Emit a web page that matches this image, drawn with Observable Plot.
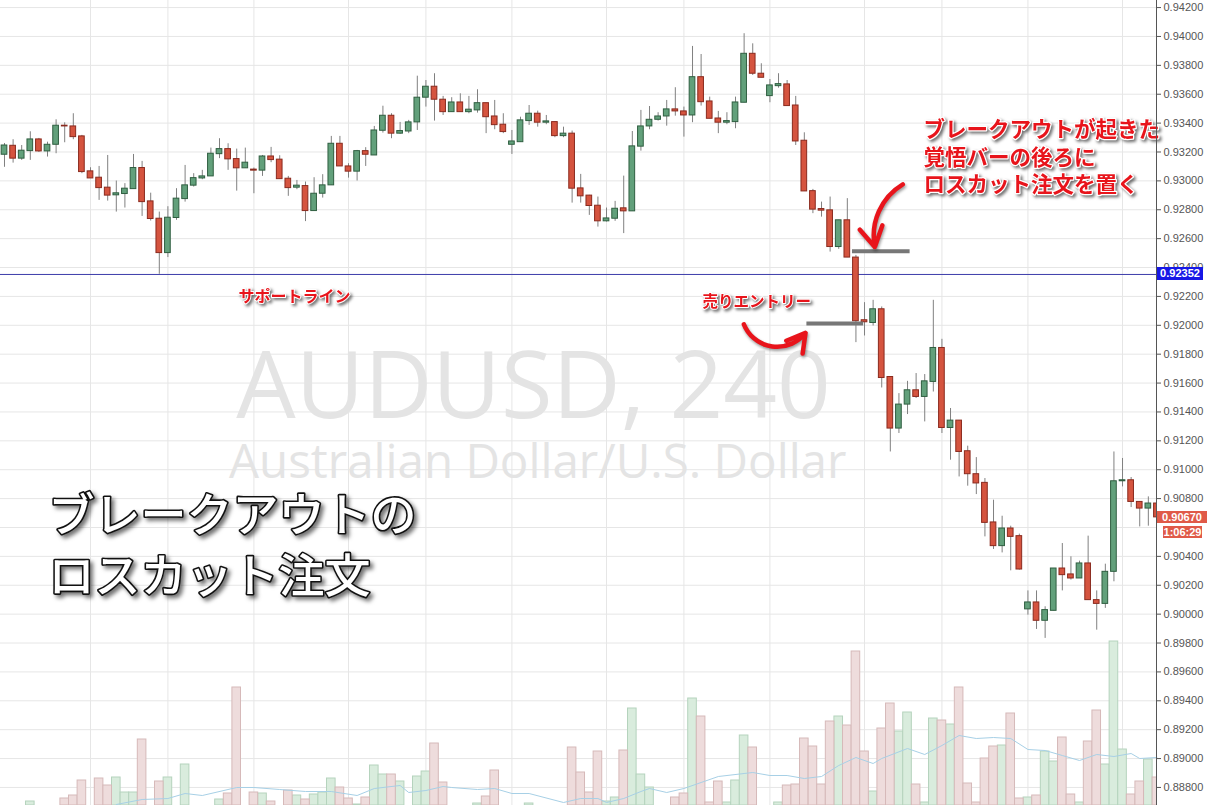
<!DOCTYPE html>
<html><head><meta charset="utf-8">
<script src="https://cdn.jsdelivr.net/npm/d3@7"></script>
<script src="https://cdn.jsdelivr.net/npm/@observablehq/plot@0.6"></script>
<style>
html,body{margin:0;padding:0;background:#fff;overflow:hidden;}
#wrap{position:relative;width:1211px;height:805px;overflow:hidden;}
#wrap svg{position:absolute;left:0;top:0;background:transparent;}
.redtxt{filter:drop-shadow(2px 2px 1.5px rgba(0,0,0,0.55));}
.bigtxt{filter:drop-shadow(3px 3px 2px rgba(0,0,0,0.55));}
.arrowfx{filter:drop-shadow(1px 2px 1.5px rgba(0,0,0,0.4));}
.lbl{position:absolute;font:bold 11px Arial,"Liberation Sans",sans-serif;color:#fff;text-align:center;}
</style></head><body><div id="wrap"></div>
<script>
// ---- data (AUDUSD 4h candles) ----
const open = [0.93181,0.93243,0.93154,0.93206,0.93287,0.93204,0.93250,0.93382,0.93377,0.93308,
0.93066,0.93022,0.92953,0.92900,0.92909,0.92943,0.93089,0.92858,0.92738,0.92500,
0.92743,0.92874,0.92967,0.93017,0.93031,0.93185,0.93220,0.93151,0.93087,0.93078,
0.93071,0.93169,0.93147,0.93015,0.92953,0.92964,0.92791,0.92911,0.92969,0.93257,
0.93100,0.93064,0.93206,0.93176,0.93347,0.93451,0.93327,0.93342,0.93405,0.93576,
0.93652,0.93562,0.93476,0.93543,0.93476,0.93488,0.93538,0.93446,0.93389,0.93250,
0.93268,0.93414,0.93465,0.93403,0.93407,0.93310,0.93327,0.92948,0.92898,0.92828,
0.92720,0.92738,0.92810,0.92789,0.93237,0.93377,0.93423,0.93446,0.93495,0.93481,
0.93453,0.93718,0.93550,0.93432,0.93403,0.93407,0.93541,0.93880,0.93742,0.93587,
0.93656,0.93668,0.93522,0.93278,0.92929,0.92805,0.92796,0.92542,0.92727,0.92469,
0.92035,0.92016,0.92111,0.91642,0.91285,0.91451,0.91550,0.91504,0.91608,0.91843,
0.91289,0.91340,0.91128,0.90969,0.90909,0.90635,0.90471,0.90593,0.90540,0.90033,
0.90081,0.89954,0.90023,0.90316,0.90275,0.90247,0.90351,0.90097,0.90071,0.90293,
0.90920,0.90927,0.90777,0.90731,0.90766];
const high = [0.93259,0.93285,0.93245,0.93340,0.93294,0.93268,0.93423,0.93402,0.93465,0.93315,
0.93091,0.93100,0.93176,0.92999,0.92981,0.93183,0.93135,0.92915,0.92784,0.92821,
0.92946,0.93107,0.93050,0.93073,0.93227,0.93292,0.93257,0.93220,0.93227,0.93089,
0.93176,0.93232,0.93174,0.93031,0.93003,0.92992,0.93022,0.93043,0.93308,0.93308,
0.93119,0.93211,0.93230,0.93377,0.93517,0.93465,0.93405,0.93419,0.93725,0.93695,
0.93742,0.93585,0.93576,0.93603,0.93585,0.93631,0.93538,0.93557,0.93465,0.93349,
0.93441,0.93522,0.93483,0.93453,0.93407,0.93372,0.93345,0.93045,0.92900,0.92888,
0.92812,0.92858,0.93033,0.93342,0.93488,0.93515,0.93472,0.93557,0.93645,0.93511,
0.93931,0.93875,0.93580,0.93481,0.93472,0.93580,0.94019,0.93949,0.93811,0.93702,
0.93742,0.93695,0.93585,0.93333,0.92941,0.92853,0.92888,0.92727,0.92877,0.92484,
0.92157,0.92173,0.92127,0.91642,0.91527,0.91612,0.91666,0.91659,0.92173,0.91903,
0.91424,0.91340,0.91163,0.91084,0.90939,0.90789,0.90678,0.90609,0.90554,0.90161,
0.90161,0.90051,0.90316,0.90489,0.90397,0.90367,0.90540,0.90161,0.90346,0.91123,
0.91078,0.90946,0.90777,0.90812,0.90789];
const low = [0.93094,0.93123,0.93142,0.93142,0.93197,0.93165,0.93188,0.93264,0.93285,0.93050,
0.93017,0.92865,0.92860,0.92784,0.92812,0.92943,0.92754,0.92722,0.92353,0.92469,
0.92727,0.92853,0.92957,0.93008,0.93031,0.93154,0.93073,0.92929,0.93087,0.92911,
0.93031,0.93126,0.93012,0.92893,0.92939,0.92718,0.92791,0.92881,0.92969,0.93100,
0.93019,0.92999,0.93100,0.93176,0.93331,0.93292,0.93322,0.93327,0.93349,0.93511,
0.93414,0.93453,0.93476,0.93476,0.93465,0.93469,0.93327,0.93354,0.93327,0.93183,
0.93268,0.93384,0.93372,0.93389,0.93299,0.93299,0.92846,0.92846,0.92761,0.92680,
0.92715,0.92720,0.92635,0.92789,0.93206,0.93354,0.93414,0.93379,0.93448,0.93303,
0.93403,0.93518,0.93430,0.93327,0.93389,0.93361,0.93541,0.93730,0.93714,0.93541,
0.93642,0.93518,0.93245,0.92927,0.92773,0.92749,0.92507,0.92526,0.92469,0.91880,
0.91926,0.91995,0.91566,0.91123,0.91251,0.91382,0.91493,0.91331,0.91538,0.91251,
0.91066,0.90950,0.90886,0.90828,0.90535,0.90448,0.90424,0.90300,0.90305,0.89993,
0.89894,0.89832,0.90023,0.90161,0.90236,0.90247,0.90097,0.89889,0.90040,0.90224,
0.90881,0.90738,0.90604,0.90609,0.90650];
const close = [0.93245,0.93154,0.93209,0.93287,0.93204,0.93250,0.93382,0.93377,0.93303,0.93061,
0.93017,0.92950,0.92898,0.92914,0.92946,0.93089,0.92853,0.92736,0.92500,0.92745,
0.92877,0.92969,0.93019,0.93031,0.93188,0.93220,0.93149,0.93087,0.93126,0.93071,
0.93169,0.93144,0.93012,0.92950,0.92967,0.92791,0.92911,0.92969,0.93257,0.93100,
0.93064,0.93206,0.93181,0.93349,0.93451,0.93327,0.93345,0.93405,0.93576,0.93652,
0.93562,0.93476,0.93543,0.93476,0.93493,0.93538,0.93441,0.93386,0.93338,0.93273,
0.93419,0.93465,0.93403,0.93412,0.93310,0.93327,0.92946,0.92893,0.92826,0.92720,
0.92740,0.92807,0.92789,0.93239,0.93377,0.93423,0.93446,0.93495,0.93481,0.93453,
0.93718,0.93545,0.93430,0.93403,0.93414,0.93543,0.93880,0.93742,0.93714,0.93661,
0.93670,0.93518,0.93273,0.92927,0.92801,0.92794,0.92542,0.92727,0.92469,0.92028,
0.92021,0.92111,0.91635,0.91285,0.91451,0.91550,0.91504,0.91612,0.91843,0.91289,
0.91340,0.91123,0.90969,0.90905,0.90632,0.90471,0.90593,0.90535,0.90309,0.90081,
0.89954,0.90028,0.90316,0.90270,0.90247,0.90351,0.90097,0.90071,0.90293,0.90920,
0.90927,0.90777,0.90731,0.90766,0.90670];
// relative volume per candle
const volume = [0,0,0,4,0,0,0,7,10,25, 0,27,20,28,13,13,66,0,24,28,
0,41,0,0,0,6,12,118,0,13, 12,4,0,15,10,6,11,13,27,18,
7,1,8,40,31,31,24,0,29,34, 62,23,0,0,0,2,9,35,0,0,
0,2,0,0,0,0,58,33,13,54, 4,8,55,97,31,18,0,0,8,12,
107,89,3,24,3,25,70,58,0,0, 3,20,21,67,59,21,84,89,80,154,
54,14,77,102,74,93,21,3,87,85, 81,118,22,3,47,59,60,92,7,8,
10,54,44,68,11,3,64,95,41,164, 56,11,24,46,28];
// volume moving average (read at selected candles)
const maIndex = [13,16,19,21,23,27,29,32,35,38,41,43,46,47,49,51,52,55,57,59,61,65,67,69,70,72,74,75,77,79,81,83,86,87,89,91,93,95,97,99,101,102,105,107,109,111,113,115,117,119,121,123,125,127,129,131,132,134];
const maValue = [1,6,7,12,10,18,18,16,14,14,10,17,20,13,15,19,18,16,17,12,12,3,7,7,3,7,14,17,13,17,23,29,32,33,30,30,27,29,40,48,42,47,57,51,60,70,67,68,67,56,55,50,45,51,49,52,47,48];

const yTicks = [0.888,0.890,0.892,0.894,0.896,0.898,0.900,0.902,0.904,0.906,0.908,0.910,0.912,0.914,0.916,0.918,0.920,0.922,0.924,0.926,0.928,0.930,0.932,0.934,0.936,0.938,0.940,0.942];
// tick labels drawn on the price scale (0.906 sits under the last-price tag)
const yTickLabels = [0.888,0.890,0.892,0.894,0.896,0.898,0.900,0.902,0.904,0.908,0.910,0.912,0.914,0.916,0.918,0.920,0.922,0.924,0.926,0.928,0.930,0.932,0.934,0.936,0.938,0.940,0.942];
const dayGrid = [10,19,29,40,49,59,70,79,89,100,109,119,130];

const supportLevel = 0.92352;
const lastPrice = 0.90670;
const countdown = "1:06:29";
const entryLevel = 0.92012;
const stopLevel = 0.92512;

const watermark1 = "AUDUSD, 240";
const watermark2 = "Australian Dollar/U.S. Dollar";
const titleLines = ["ブレークアウトの", "ロスカット注文"];
const noteLines = ["ブレークアウトが起きた", "覚悟バーの後ろに", "ロスカット注文を置く"];
const entryLabel = "売りエントリー";
const supportLabel = "サポートライン";

// ---- scales ----
const W = 1211, H = 805;
const xDomain = [-0.465, 133.95];
const yDomain = [0.88675, 0.94249];
const common = {width: W, height: H, marginTop: 0, marginBottom: 0, marginLeft: 0, marginRight: 55,
  style: {background: "transparent", fontFamily: "Arial, 'Liberation Sans', sans-serif"}};

const candles = open.map((o, i) => ({i, o, h: high[i], l: low[i], c: close[i], v: volume[i]}));
const up = d => d.c >= d.o;
const down = d => d.c < d.o;
const ma = maIndex.map((i, k) => ({i, v: maValue[k]}));

const wrap = document.getElementById("wrap");

// layer 1: grid
const grid = Plot.plot({...common,
  x: {domain: xDomain, axis: null},
  y: {domain: yDomain, axis: null},
  marks: [
    Plot.gridY(yTicks, {stroke: "#e6e6e6", strokeOpacity: 1}),
    Plot.gridX(dayGrid, {stroke: "#e6e6e6", strokeOpacity: 1})
  ]
});
wrap.appendChild(grid);

// layer 2: volume
const vol = Plot.plot({...common,
  x: {domain: xDomain, axis: null},
  y: {domain: [0, H], axis: null},
  marks: [
    Plot.rect(candles, {filter: up, x1: d => d.i - 0.5, x2: d => d.i + 0.5, y1: () => 0, y2: "v",
      fill: "#d9ecdd", stroke: "#b5d3bd", strokeWidth: 1, clip: true}),
    Plot.rect(candles, {filter: down, x1: d => d.i - 0.5, x2: d => d.i + 0.5, y1: () => 0, y2: "v",
      fill: "#eedcdc", stroke: "#d6b9b9", strokeWidth: 1, clip: true}),
    Plot.line(ma, {x: "i", y: "v", stroke: "#a7d0e6", strokeWidth: 1})
  ]
});
wrap.appendChild(vol);

// layer 3: price
const main = Plot.plot({...common,
  x: {domain: xDomain, axis: null},
  y: {domain: yDomain},
  marks: [
    Plot.text([watermark1], {x: () => 61.5, y: () => 0.91356, text: d => d, fontSize: 94,
      fontFamily: "'Open Sans', sans-serif", fill: "#e4e4e4", textAnchor: "middle", lineAnchor: "bottom"}),
    Plot.text([watermark2], {x: () => 62.0, y: () => 0.90945, text: d => d, fontSize: 47.5,
      fontFamily: "'Open Sans', sans-serif", fill: "#e4e4e4", textAnchor: "middle", lineAnchor: "bottom"}),
    Plot.ruleY([supportLevel], {stroke: "#3c3caa", strokeWidth: 1}),
    Plot.ruleX(candles, {x: "i", y1: "l", y2: "h", stroke: "#808080", strokeWidth: 1, clip: true}),
    Plot.rect(candles, {filter: up, x1: d => d.i - 0.33, x2: d => d.i + 0.33, y1: "o", y2: "c",
      fill: "#62a07b", stroke: "#2f5e40", strokeWidth: 1, clip: true}),
    Plot.rect(candles, {filter: down, x1: d => d.i - 0.33, x2: d => d.i + 0.33, y1: "c", y2: "o",
      fill: "#d5543f", stroke: "#8a2a1e", strokeWidth: 1, clip: true}),
    Plot.ruleY([{y: stopLevel, a: 98.6, b: 105.3}, {y: entryLevel, a: 93.3, b: 99.9}],
      {y: "y", x1: "a", x2: "b", stroke: "#777", strokeWidth: 4}),
    Plot.arrow([{x1: 104.45, y1: 0.92976, x2: 101.2, y2: 0.92542}], {x1: "x1", y1: "y1", x2: "x2", y2: "y2",
      bend: -35, stroke: "#e8141b", strokeWidth: 4.5, headLength: 14, className: "arrowfx"}),
    Plot.arrow([{x1: 85.97, y1: 0.92007, x2: 93.14, y2: 0.91947}], {x1: "x1", y1: "y1", x2: "x2", y2: "y2",
      bend: -60, stroke: "#e8141b", strokeWidth: 4.5, headLength: 14, className: "arrowfx"}),
    Plot.text(noteLines.map((t, k) => ({t, y: [0.93304, 0.93107, 0.92922][k]})), {x: () => 106.86, y: "y", text: "t",
      fontSize: 21.5, fontWeight: "bold", fontFamily: "'Noto Sans CJK JP', sans-serif", fill: "#e8141b",
      stroke: "white", strokeWidth: 2.5, paintOrder: "stroke", textAnchor: "start", lineAnchor: "bottom", className: "redtxt"}),
    Plot.text([entryLabel], {x: () => 81.16, y: () => 0.92125, text: d => d,
      fontSize: 15.5, fontWeight: "bold", fontFamily: "'Noto Sans CJK JP', sans-serif", fill: "#e8141b",
      stroke: "white", strokeWidth: 2, paintOrder: "stroke", textAnchor: "start", lineAnchor: "bottom", className: "redtxt"}),
    Plot.text([supportLabel], {x: () => 27.2, y: () => 0.92159, text: d => d,
      fontSize: 16, fontWeight: "bold", fontFamily: "'Noto Sans CJK JP', sans-serif", fill: "#e8141b",
      stroke: "white", strokeWidth: 2, paintOrder: "stroke", textAnchor: "start", lineAnchor: "bottom", className: "redtxt"}),
    Plot.text(titleLines.map((t, k) => ({t, y: [0.90575, 0.90152][k]})), {x: () => 5.12, y: "y", text: "t",
      fontSize: 46, fontWeight: 500, fontFamily: "'Noto Sans CJK JP', sans-serif", fill: "white",
      stroke: "#111", strokeWidth: 3.2, paintOrder: "stroke", textAnchor: "start", lineAnchor: "bottom", className: "bigtxt"}),
    Plot.ruleX([xDomain[1]], {stroke: "#555", strokeWidth: 1}),
    Plot.axisY(yTickLabels, {anchor: "right", tickFormat: d3.format(".5f"), tickSize: 4, tickPadding: 3,
      fontSize: 11, color: "#555", stroke: "#555", fill: "#555"})
  ]
});
wrap.appendChild(main);

// price labels on the axis
const ys = main.scale("y");
function label(text, val, bg, left, width, h, dy) {
  const d = document.createElement("div");
  d.className = "lbl";
  d.textContent = text;
  const cy = ys.apply(val) + dy;
  Object.assign(d.style, {left: left + "px", top: (cy - h / 2) + "px", width: width + "px", height: h + "px",
    lineHeight: h + "px", background: bg});
  wrap.appendChild(d);
}
label(supportLevel.toFixed(5), supportLevel, "#1717e6", 1157, 46, 13, 0);
label(lastPrice.toFixed(5), lastPrice, "#e05a48", 1157, 50, 12, 0);
label(countdown, lastPrice, "#e05a48", 1163, 39, 12, 15);
</script></body></html>
